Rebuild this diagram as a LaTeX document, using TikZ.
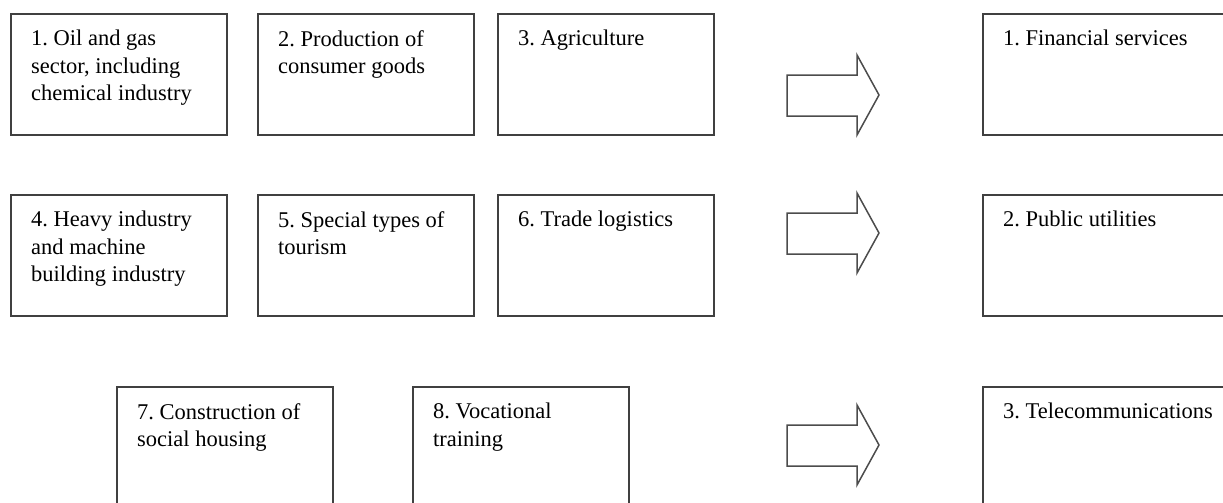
\documentclass[tikz,border=0pt]{standalone}
\usepackage{fontspec}
\setmainfont{Liberation Serif}
\frenchspacing
\begin{document}
\begin{tikzpicture}[x=1pt,y=-1pt,
  boxstyle/.style={draw=black!75, line width=1.6pt, minimum width=216pt, minimum height=121pt, inner sep=0pt, anchor=north west},
  widebox/.style={boxstyle, minimum width=260pt},
  labelstyle/.style={anchor=north west, inner sep=0pt, align=left, font=\fontsize{22.5}{27.5}\selectfont, text=black},
  bigarrow/.style={draw=black!70, line width=1.5pt, fill=white, line join=miter}
]
\useasboundingbox (0,0) rectangle (1223,503);
% row 1
\node[boxstyle] (b1) at (10,13) {};
\node[boxstyle] (b2) at (257,13) {};
\node[boxstyle] (b3) at (497,13) {};
\node[widebox] (r1) at (982,13) {};
% row 2
\node[boxstyle] (b4) at (10,194) {};
\node[boxstyle] (b5) at (257,194) {};
\node[boxstyle] (b6) at (497,194) {};
\node[widebox] (r2) at (982,194) {};
% row 3
\node[boxstyle, minimum height=130pt] (b7) at (116,386) {};
\node[boxstyle, minimum height=130pt] (b8) at (412,386) {};
\node[widebox, minimum height=130pt] (r3) at (982,386) {};
% labels
\node[labelstyle] (t1) at ([shift={(21,17)}]b1.north west) {1. Oil and gas\\sector, including\\chemical industry};
\node[labelstyle] (t2) at ([shift={(21,17)}]b2.north west) {2. Production of\\consumer goods};
\node[labelstyle] (t3) at ([shift={(21,17)}]b3.north west) {3. Agriculture};
\node[labelstyle] (u1) at ([shift={(21,17)}]r1.north west) {1. Financial services};
\node[labelstyle] (t4) at ([shift={(21,17)}]b4.north west) {4. Heavy industry\\and machine\\building industry};
\node[labelstyle] (t5) at ([shift={(21,17)}]b5.north west) {5. Special types of\\tourism};
\node[labelstyle] (t6) at ([shift={(21,17)}]b6.north west) {6. Trade logistics};
\node[labelstyle] (u2) at ([shift={(21,17)}]r2.north west) {2. Public utilities};
\node[labelstyle] (t7) at ([shift={(21,17)}]b7.north west) {7. Construction of\\social housing};
\node[labelstyle] (t8) at ([shift={(21,17)}]b8.north west) {8. Vocational\\training};
\node[labelstyle] (u3) at ([shift={(21,17)}]r3.north west) {3. Telecommunications};
% arrows (tip coordinates)
\coordinate (a1) at (879,95);
\coordinate (a2) at (879,233);
\coordinate (a3) at (879,445);
\foreach \a in {a1,a2,a3}{
  \draw[bigarrow] (\a) -- ++(-22,-40) -- ++(0,20) -- ++(-70,0) -- ++(0,41) -- ++(70,0) -- ++(0,19) -- cycle;
}
\end{tikzpicture}
\end{document}
